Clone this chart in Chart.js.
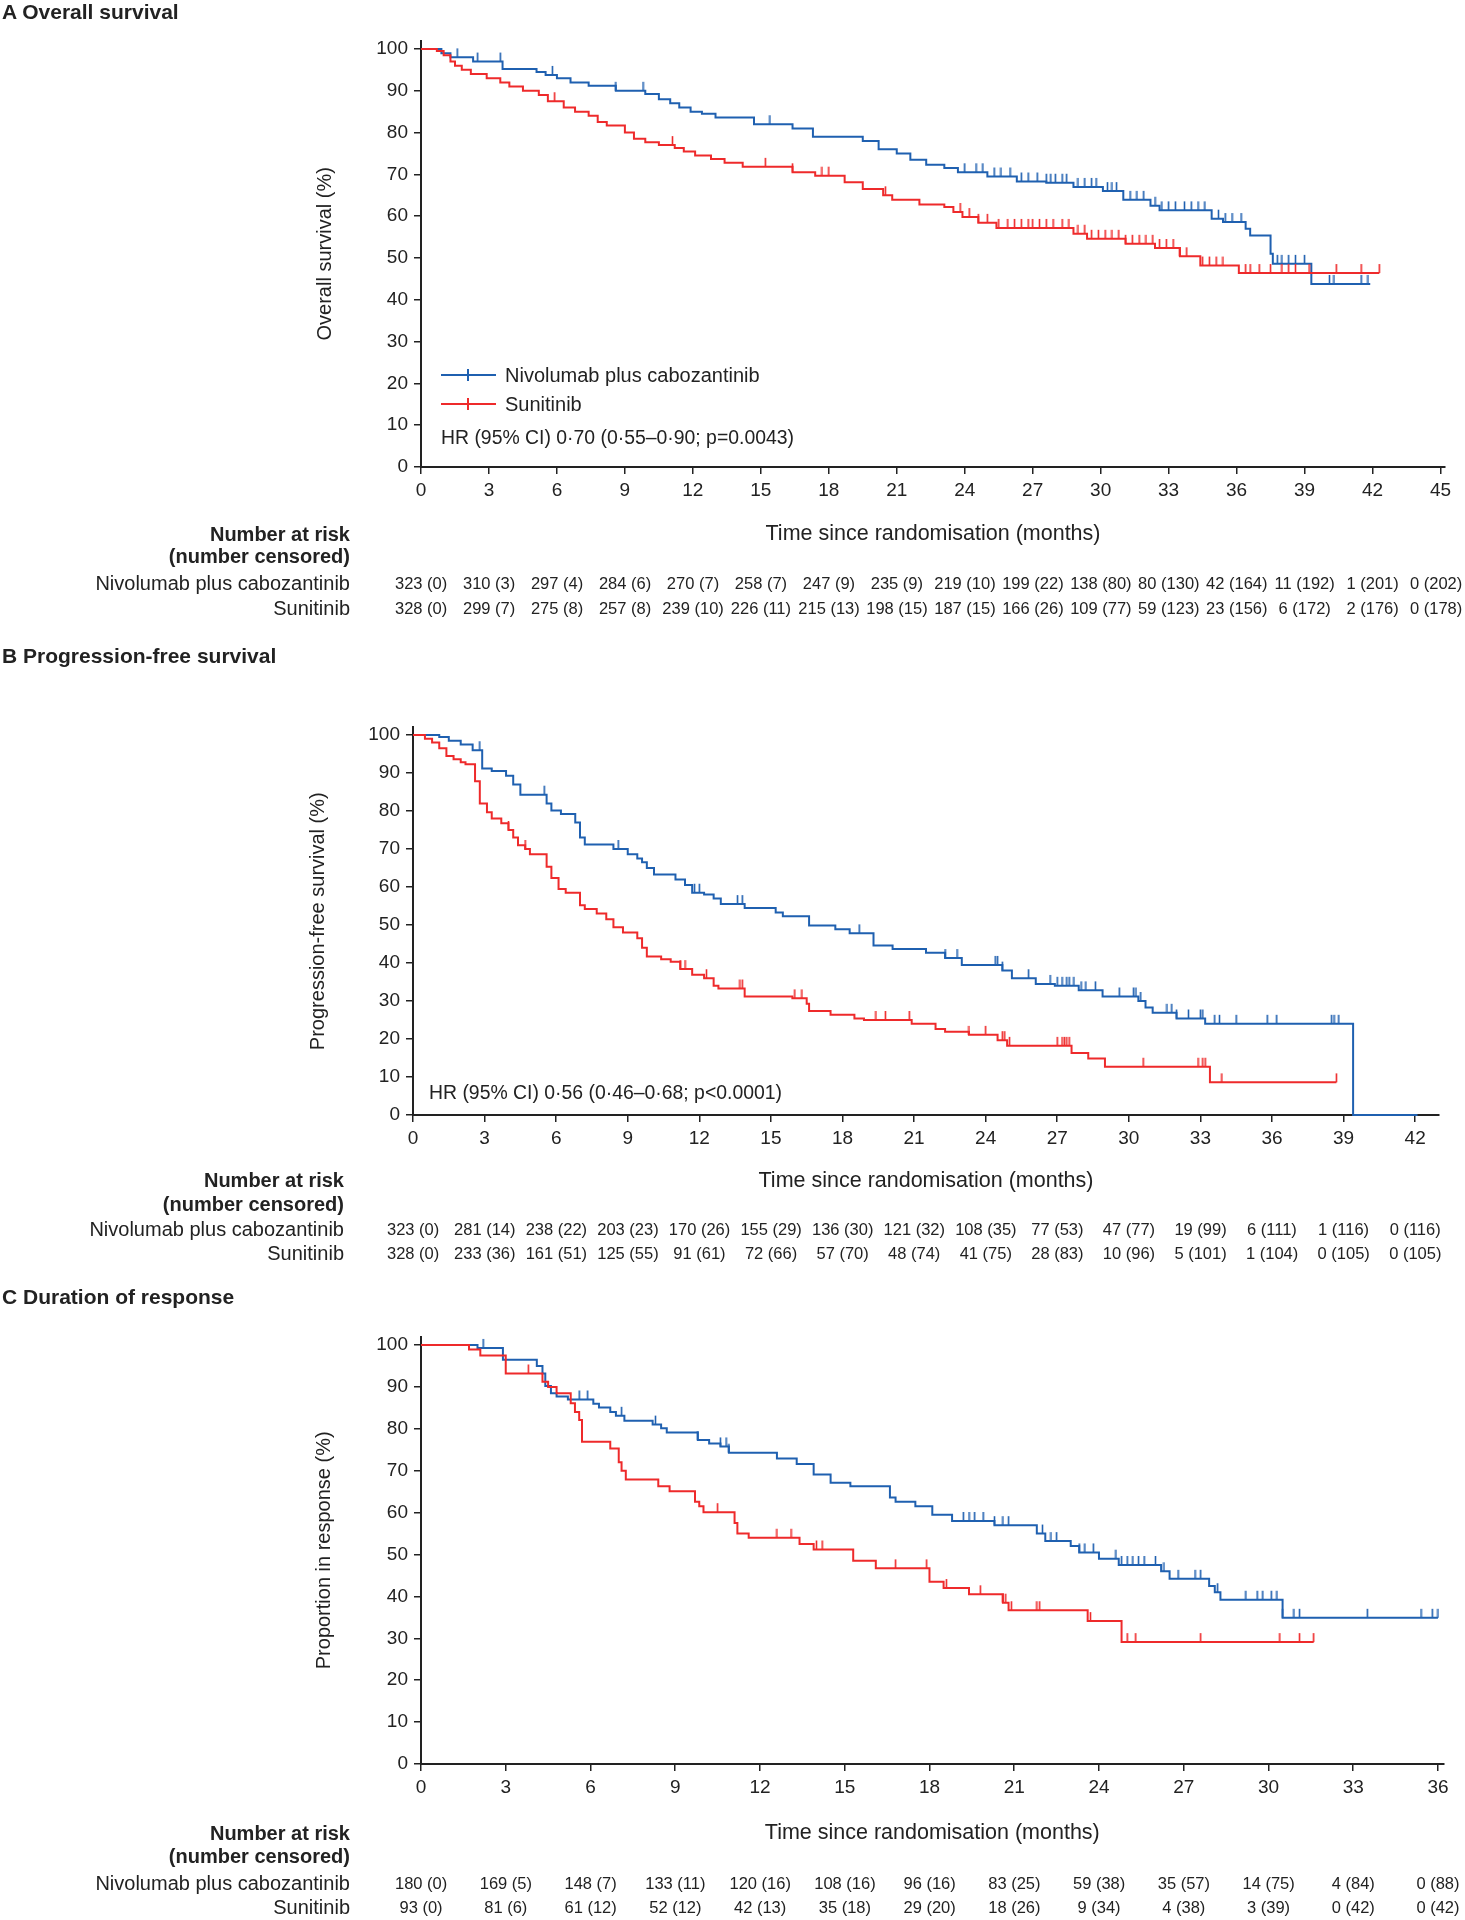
<!DOCTYPE html>
<html>
<head>
<meta charset="utf-8">
<script src="https://cdn.jsdelivr.net/npm/chart.js@4.4.0/dist/chart.umd.min.js"></script>
<style>
body{margin:0;background:#fff;font-family:"Liberation Sans",Arial,sans-serif;color:#222}
#page{position:relative;width:1465px;height:1920px;overflow:hidden}
canvas{position:absolute;left:0}
.t{position:absolute;white-space:nowrap}
.sw{position:absolute;height:0;border-top:2px solid}
.sw i{position:absolute;left:26px;top:-7px;width:0;height:12px;border-left:2px solid;border-color:inherit}
</style>
</head>
<body>
<div id="page">
<canvas id="cA" width="1465" height="551" style="top:0px"></canvas>
<canvas id="cB" width="1465" height="558" style="top:640px"></canvas>
<canvas id="cC" width="1465" height="570" style="top:1280px"></canvas>
</div>
<script>
const FONT='"Liberation Sans", Arial, sans-serif';
const BLUE='#1f60b0', RED='#ee2a2b', INK='#222';

// ---------- A  overall survival
const osTicks=[0,3,6,9,12,15,18,21,24,27,30,33,36,39,42,45];
const osNivoT=[0,0.9,1.3,2.3,3.6,5.1,5.5,6.0,6.6,7.4,8.6,9.9,10.5,11.0,11.4,11.9,12.4,13.0,14.7,16.4,17.3,19.5,20.2,21.0,21.6,22.3,23.1,23.7,25.0,26.3,27.6,28.8,30.1,31.0,32.2,32.6,34.9,35.4,36.4,36.6,37.5,37.6,39.3,41.9];
const osNivoS=[100,99,98,97,95.2,94.5,93.8,93,92,91.2,90,89.2,88,87,86,85,84.5,83.6,82,81,79,78,76,75,73.5,72.3,71.5,70.5,69.5,68.3,68,67,66,63.9,62.5,61.4,59.4,58.6,57,55.4,51,48.6,43.8,43.8];
const osNivoCens=[1.6,2.5,3.5,5.8,8.6,9.8,15.4,24.0,24.5,24.8,25.3,25.6,26.0,26.5,26.8,27.2,27.6,27.8,28.0,28.3,28.5,29.0,29.3,29.6,29.8,30.3,30.5,30.7,31.3,31.6,31.9,32.4,32.7,33.0,33.3,33.7,34.0,34.3,34.6,35.2,35.5,35.8,36.2,37.8,38.0,38.3,38.6,39.0,40.1,40.3,41.5,41.8];
const osSuniT=[0,0.7,1.0,1.3,1.5,1.8,2.2,2.9,3.5,3.9,4.5,5.2,5.6,6.3,6.8,7.4,7.8,8.2,9.0,9.4,9.9,10.5,11.2,11.6,12.1,12.8,13.4,14.2,16.4,17.4,18.7,19.5,20.4,20.8,22.0,23.1,23.5,23.9,24.6,25.4,28.8,29.4,31.1,32.4,33.5,34.4,36.1,42.3];
const osSuniS=[100,99.5,98.5,97,96,95,94,93,92,91,90,89,87.5,86,85,84,82.5,81.7,80,78.5,77.7,77,76.3,75.5,74.5,73.7,72.8,71.8,70.5,69.7,68.1,66.5,65,63.9,62.8,62.2,61,59.8,58.4,57.2,55.8,54.6,53.4,52.4,50.4,48.2,46.4,46.4];
const osSuniCens=[5.9,11.1,15.2,16.4,17.7,18.0,20.5,23.8,24.2,24.6,25.0,25.5,25.9,26.2,26.5,26.8,27.0,27.3,27.6,27.9,28.3,28.6,29.0,29.3,29.6,29.9,30.2,30.5,30.8,31.1,31.4,31.7,32.0,32.3,32.6,32.9,33.2,33.5,33.8,34.5,34.8,35.1,35.4,36.4,36.6,37.0,37.5,38.0,38.3,38.6,39.2,40.4,41.5,42.3];
const osRiskNivo=[323,310,297,284,270,258,247,235,219,199,138,80,42,11,1,0];
const osCensNivo=[0,3,4,6,7,7,9,9,10,22,80,130,164,192,201,202];
const osRiskSuni=[328,299,275,257,239,226,215,198,187,166,109,59,23,6,2,0];
const osCensSuni=[0,7,8,8,10,11,13,15,15,26,77,123,156,172,176,178];

// ---------- B  progression-free survival
const pfsTicks=[0,3,6,9,12,15,18,21,24,27,30,33,36,39,42];
const pfsNivoT=[0,1.1,1.5,2.0,2.5,2.9,3.3,3.9,4.2,4.5,5.6,5.8,6.2,6.8,7.0,7.2,8.4,9.0,9.4,9.6,9.8,10.1,11.0,11.4,11.7,12.2,12.6,12.9,13.9,15.2,15.5,16.6,17.7,18.3,19.3,20.1,21.5,22.3,23.0,24.7,25.1,26.1,26.9,27.9,28.9,30.4,30.7,31.0,32.0,33.2,39.4,42.1];
const pfsNivoS=[100,99.5,98.5,97.5,96,91.2,90.5,89.3,87,84.3,82,80.1,79.2,77,73,71.2,70,68.6,67.5,66.5,65,63.3,62,60.5,58.5,58,57,55.5,54.5,53.3,52.3,49.9,48.9,47.8,44.6,43.7,42.7,41.3,39.5,38,36,34.5,34,32.8,31.2,30,28.3,26.9,25.4,24,0,0];
const pfsNivoCens=[2.8,5.5,8.6,11.8,12.0,13.6,13.8,18.7,22.3,22.8,24.4,24.5,24.7,25.8,26.7,27.0,27.2,27.4,27.5,27.7,28.0,28.2,28.6,29.6,30.2,30.3,30.5,31.6,31.8,32.0,32.5,33.0,33.1,33.6,33.8,34.5,35.8,36.2,38.5,38.6,38.8];
const pfsSuniT=[0,0.5,0.8,1.1,1.4,1.7,2.0,2.2,2.6,2.8,3.1,3.3,3.7,4.0,4.2,4.4,4.7,4.9,5.6,5.8,6.1,6.4,7.0,7.2,7.7,8.1,8.4,8.8,9.4,9.6,9.8,10.4,10.8,11.2,11.7,12.2,12.6,12.8,13.9,15.9,16.5,16.6,17.5,18.5,18.9,20.9,21.9,22.3,23.3,24.5,24.9,27.6,28.3,29.0,33.4,38.7];
const pfsSuniS=[100,99,98,96.5,94.5,93.6,92.8,92.3,87.8,82,79.7,78,76.8,75,73,71,70,68.6,65.3,62.4,59.5,58.5,55.2,54.2,53,51.5,49.4,48,46.5,44,41.7,41,40.3,38.4,36.9,36,34,33.3,31.2,30.7,29.3,27.4,26.4,25.4,25,24,22.6,21.9,21.1,19.7,18.2,16.3,14.9,12.7,8.6,8.6];
const pfsSuniCens=[4.0,4.7,11.2,11.4,12.3,13.7,13.8,16.0,16.3,19.4,19.8,20.8,23.3,24.0,24.7,24.8,25.0,27.0,27.2,27.3,27.4,27.5,30.6,32.9,33.1,33.2,33.9,38.7];
const pfsRiskNivo=[323,281,238,203,170,155,136,121,108,77,47,19,6,1,0];
const pfsCensNivo=[0,14,22,23,26,29,30,32,35,53,77,99,111,116,116];
const pfsRiskSuni=[328,233,161,125,91,72,57,48,41,28,10,5,1,0,0];
const pfsCensSuni=[0,36,51,55,61,66,70,74,75,83,96,101,104,105,105];

// ---------- C  duration of response
const dorTicks=[0,3,6,9,12,15,18,21,24,27,30,33,36];
const dorNivoT=[0,2.0,2.9,4.1,4.3,4.4,4.6,4.8,5.2,6.1,6.3,6.7,6.9,7.2,8.2,8.5,8.7,9.8,10.2,10.6,10.9,12.6,13.3,13.9,14.5,15.2,16.6,16.8,17.5,18.1,18.8,20.3,21.8,22.1,23.0,23.3,24.0,24.7,26.2,26.5,27.9,28.1,28.3,30.5,36.0];
const dorNivoS=[100,99.3,96.5,95,93.2,90.2,88.5,87.7,87,86,85.1,84,83.1,81.9,81,80.1,79.1,77.3,76.5,75.8,74.3,72.9,71.6,69.1,67.1,66.3,63.6,62.6,61.5,59.5,58,57,55,53.2,52,50.5,49,47.5,46,44.2,42.5,41,39.2,34.9,34.9];
const dorNivoCens=[2.2,5.6,5.9,7.1,8.3,9.8,10.6,10.8,10.9,19.2,19.4,19.6,19.9,20.3,20.6,20.8,22.0,22.3,22.5,23.3,23.5,23.8,24.6,24.8,25.0,25.2,25.4,25.6,26.0,26.3,26.8,27.4,27.6,28.2,29.2,29.6,29.8,30.1,30.3,30.5,30.9,31.1,33.5,35.4,35.8,36.0];
const dorSuniT=[0,1.7,2.1,3.0,4.3,4.5,4.8,5.3,5.45,5.6,5.7,6.7,7.0,7.1,7.25,8.4,8.8,9.7,9.85,10.0,11.1,11.2,11.6,13.4,13.9,15.3,16.1,18.0,18.5,19.4,20.6,20.8,23.6,24.8,31.6];
const dorSuniS=[100,98.9,97.5,93.2,91.2,90,88.5,86.1,84,82.1,76.9,75.3,72,70,67.9,66.3,65.1,62.6,61.5,60.1,57.5,55,54,52.5,51.2,48.5,46.7,43.5,42,40.5,38.5,36.7,34.1,29.1,29.1];
const dorSuniCens=[3.8,10.5,12.6,13.1,14.0,14.2,16.8,17.9,18.6,19.8,20.6,20.7,20.9,21.8,21.9,23.7,25.0,25.3,27.6,30.4,31.1,31.6];
const dorRiskNivo=[180,169,148,133,120,108,96,83,59,35,14,4,0];
const dorCensNivo=[0,5,7,11,16,16,16,25,38,57,75,84,88];
const dorRiskSuni=[93,81,61,52,42,35,29,18,9,4,3,0,0];
const dorCensSuni=[0,6,12,12,13,18,20,26,34,38,39,42,42];

const yTicks=[0,10,20,30,40,50,60,70,80,90,100];

const page=document.getElementById('page');

function txt(s,x,y,o){
  o=o||{};
  const size=o.size||20;
  const d=document.createElement('div');
  d.className='t';
  d.textContent=s;
  d.style.fontSize=size+'px';
  d.style.lineHeight=size+'px';
  d.style.top=(y-size/2)+'px';
  if(o.bold) d.style.fontWeight='bold';
  if(o.align==='right') d.style.right=(1465-x)+'px';
  else d.style.left=x+'px';
  page.appendChild(d);
  if(o.align==='center'){
    // keep the last column inside the page
    const w=d.offsetWidth;
    d.style.left=Math.min(x-w/2,1462-w)+'px';
  }
}

function mark(color){
  const c=document.createElement('canvas');
  c.width=3;c.height=20;
  const g=c.getContext('2d');
  g.strokeStyle=color;g.lineWidth=1.6;
  g.beginPath();g.moveTo(1.5,1);g.lineTo(1.5,10);g.stroke();
  return c;
}

function pts(ts,ss){return ts.map((t,i)=>({x:t,y:ss[i]}));}
function at(ts,ss,t){let v=ss[0];for(let i=0;i<ts.length;i++){if(ts[i]<=t)v=ss[i];}return v;}

function panel(p){
  const ds=[];
  p.curves.forEach(c=>{
    ds.push({data:pts(c.t,c.s),borderColor:c.color,borderWidth:2,stepped:true,pointRadius:0,fill:false,clip:4});
    ds.push({data:c.cens.map(t=>({x:t,y:at(c.t,c.s,t)})),showLine:false,pointStyle:mark(c.color),pointRadius:3,clip:12});
  });
  const chart=new Chart(document.getElementById(p.id),{
    type:'line',
    data:{datasets:ds},
    options:{
      responsive:false,animation:false,events:[],
      layout:{padding:{left:p.padL,right:p.padR,top:p.padT,bottom:0}},
      plugins:{legend:{display:false},tooltip:{enabled:false}},
      scales:{
        x:{type:'linear',min:0,max:p.xMax,
          afterBuildTicks:s=>{s.ticks=p.xTicks.map(v=>({value:v}));},
          afterFit:s=>{s.height=p.xH;},
          grid:{drawOnChartArea:false,tickLength:7,color:INK,lineWidth:1.5},
          border:{color:INK,width:2},
          ticks:{padding:5,color:INK,autoSkip:false,maxRotation:0,font:{family:FONT,size:19}},
          title:{display:true,text:'Time since randomisation (months)',color:INK,font:{family:FONT,size:21.5},padding:{top:4,bottom:4}}},
        y:{type:'linear',min:0,max:102,
          afterBuildTicks:s=>{s.ticks=yTicks.map(v=>({value:v}));},
          afterFit:s=>{s.width=p.yW;},
          grid:{drawOnChartArea:false,tickLength:7,color:INK,lineWidth:1.5},
          border:{color:INK,width:2},
          ticks:{padding:6,color:INK,font:{family:FONT,size:19}},
          title:{display:true,text:p.yTitle,color:INK,font:{family:FONT,size:20},padding:{top:4,bottom:4}}}
      }
    }
  });
  // title
  txt(p.title,2,p.titleY,{bold:true,size:21});
  // number at risk table
  const r=p.riskY, rx=p.riskX;
  txt('Number at risk',rx,r[0],{bold:true,align:'right'});
  txt('(number censored)',rx,r[1],{bold:true,align:'right'});
  txt('Nivolumab plus cabozantinib',rx,r[2],{align:'right'});
  txt('Sunitinib',rx,r[3],{align:'right'});
  const xs=chart.scales.x;
  p.xTicks.forEach((t,i)=>{
    const x=xs.getPixelForValue(t);
    txt(p.riskN[i]+' ('+p.censN[i]+')',x,r[2],{align:'center',size:16.5});
    txt(p.riskS[i]+' ('+p.censS[i]+')',x,r[3],{align:'center',size:16.5});
  });
  return chart;
}

panel({id:'cA',padL:309,yW:112,padR:20,padT:40.6,xH:84,xMax:45.2,xTicks:osTicks,
  yTitle:'Overall survival (%)',title:'A Overall survival',titleY:11,
  riskY:[534,556,583,608],riskX:350,
  riskN:osRiskNivo,censN:osCensNivo,riskS:osRiskSuni,censS:osCensSuni,
  curves:[{t:osSuniT,s:osSuniS,cens:osSuniCens,color:RED},{t:osNivoT,s:osNivoS,cens:osNivoCens,color:BLUE}]});

panel({id:'cB',padL:302.5,yW:110.5,padR:26,padT:87.4,xH:83,xMax:43,xTicks:pfsTicks,
  yTitle:'Progression-free survival (%)',title:'B Progression-free survival',titleY:655,
  riskY:[1180,1204,1229,1253],riskX:344,
  riskN:pfsRiskNivo,censN:pfsCensNivo,riskS:pfsRiskSuni,censS:pfsCensSuni,
  curves:[{t:pfsSuniT,s:pfsSuniS,cens:pfsSuniCens,color:RED},{t:pfsNivoT,s:pfsNivoS,cens:pfsNivoCens,color:BLUE}]});

panel({id:'cC',padL:308.6,yW:112.4,padR:21.4,padT:56.6,xH:86,xMax:36.2,xTicks:dorTicks,
  yTitle:'Proportion in response (%)',title:'C Duration of response',titleY:1296,
  riskY:[1833,1856,1883,1907],riskX:350,
  riskN:dorRiskNivo,censN:dorCensNivo,riskS:dorRiskSuni,censS:dorCensSuni,
  curves:[{t:dorSuniT,s:dorSuniS,cens:dorSuniCens,color:RED},{t:dorNivoT,s:dorNivoS,cens:dorNivoCens,color:BLUE}]});

// legend and HR labels
function legendRow(label,color,y){
  const s=document.createElement('div');
  s.className='sw';
  s.style.left='441px';s.style.width='55px';s.style.top=(y-1)+'px';s.style.borderColor=color;
  s.appendChild(document.createElement('i'));
  page.appendChild(s);
  txt(label,505,y);
}
legendRow('Nivolumab plus cabozantinib',BLUE,375);
legendRow('Sunitinib',RED,404);
txt('HR (95% CI) 0·70 (0·55–0·90; p=0.0043)',441,438,{size:19.4});
txt('HR (95% CI) 0·56 (0·46–0·68; p<0.0001)',429,1093,{size:19.4});
</script>
</body>
</html>
